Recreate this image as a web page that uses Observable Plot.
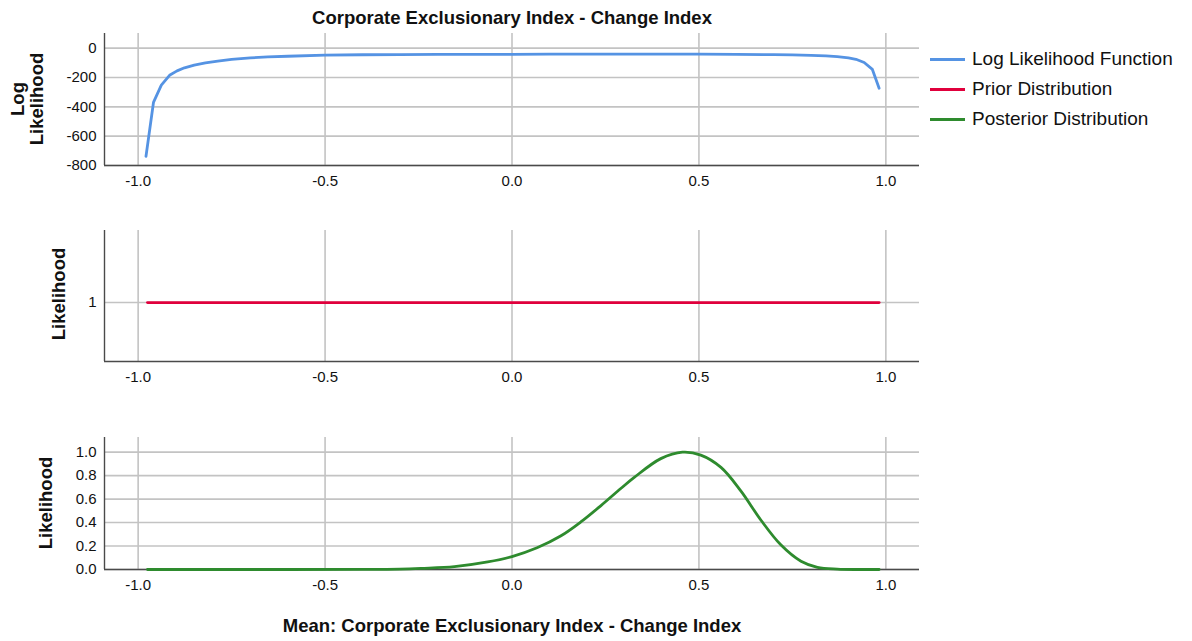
<!DOCTYPE html>
<html>
<head>
<meta charset="utf-8">
<script src="https://cdn.jsdelivr.net/npm/d3@7"></script>
<script src="https://cdn.jsdelivr.net/npm/@observablehq/plot@0.6"></script>
<style>
  html, body { margin: 0; padding: 0; background: #fff; }
  #wrap { position: relative; width: 1192px; height: 641px; font-family: "Liberation Sans", Arial, sans-serif; color: #111; overflow: hidden; }
  #wrap svg, #wrap svg g, #wrap svg text { font-size: 15px !important; font-family: "Liberation Sans", Arial, sans-serif !important; }
  .abs { position: absolute; }
  .btitle { font-weight: bold; font-size: 18.5px; white-space: nowrap; }
  .ytitle { font-weight: bold; font-size: 18.5px; white-space: nowrap; text-align: center; line-height: 19px; transform: translate(-50%, -50%) rotate(-90deg); }
  .leg { font-size: 19px; white-space: nowrap; }
  .legline { position: absolute; width: 35px; height: 3px; }
</style>
</head>
<body>
<div id="wrap"></div>
<script>
// ---- data ----
const title = "Corporate Exclusionary Index - Change Index";
const xTitle = "Mean: Corporate Exclusionary Index - Change Index";
const seriesNames = ["Log Likelihood Function", "Prior Distribution", "Posterior Distribution"];
const seriesColors = ["#5593e3", "#e0003c", "#2e8b2e"];

const xTicks = [-1.0, -0.5, 0.0, 0.5, 1.0];
const xDomain = [-1.09, 1.09];

// Log likelihood
const llX = [-0.979, -0.959, -0.938, -0.916, -0.896, -0.876, -0.85, -0.82, -0.787, -0.75, -0.7, -0.653, -0.6, -0.5, -0.4, -0.3, -0.2, -0.1, 0.0, 0.1, 0.2, 0.3, 0.4, 0.5, 0.6, 0.7, 0.75, 0.8, 0.84, 0.87, 0.9, 0.92, 0.942, 0.964, 0.982];
const llY = [-737, -370, -252, -185, -155, -134, -115, -100, -88, -77, -66, -60, -55, -47, -45, -44, -43, -42, -42, -41, -41, -41, -41, -41, -42, -44, -46, -49, -53, -58, -66, -76, -98, -145, -273];
const llYTicks = [0, -200, -400, -600, -800];
const llYDomain = [-800, 100];

// Prior
const priorX = [-0.975, 0.982];
const priorY = [1, 1];
const priorYTicks = [1];
const priorYDomain = [0.55, 1.55];

// Posterior
const postX = [-0.975, -0.6, -0.4, -0.3, -0.243, -0.154, -0.065, 0.0, 0.067, 0.13, 0.184, 0.238, 0.291, 0.327, 0.398, 0.456, 0.505, 0.559, 0.612, 0.666, 0.719, 0.773, 0.817, 0.87, 0.93, 0.982];
const postY = [0, 0, 0.001, 0.004, 0.01, 0.024, 0.064, 0.11, 0.185, 0.285, 0.405, 0.545, 0.69, 0.785, 0.945, 1.0, 0.975, 0.87, 0.67, 0.42, 0.21, 0.07, 0.018, 0.003, 0, 0];
const postYTicks = [0.0, 0.2, 0.4, 0.6, 0.8, 1.0];
const postYDomain = [0, 1.125];

// ---- build ----
const wrap = document.getElementById("wrap");
const W = 1192;
const mL = 104, mR = 1192 - 919;
const gridColor = "#c3c3c3";
const axisColor = "#4a4a4a";

function panel({top, mTop, plotH, mBottom, xs, ys, color, yDomain, yTicks, yFmt, curve}) {
  const data = xs.map((x, i) => ({x, y: ys[i]}));
  const p = Plot.plot({
    width: W,
    height: mTop + plotH + mBottom,
    marginLeft: mL, marginRight: mR, marginTop: mTop, marginBottom: mBottom,
    style: {fontFamily: '"Liberation Sans", Arial, sans-serif', fontSize: "15px", color: "#111", background: "transparent"},
    x: {domain: xDomain},
    y: {domain: yDomain},
    marks: [
      Plot.gridX(xTicks, {stroke: gridColor, strokeOpacity: 1, strokeWidth: 1.6}),
      Plot.gridY(yTicks, {stroke: gridColor, strokeOpacity: 1, strokeWidth: 1.6}),
      Plot.ruleX([xDomain[0]], {stroke: axisColor, strokeWidth: 1.4}),
      Plot.ruleY([yDomain[0]], {stroke: axisColor, strokeWidth: 1.4}),
      Plot.axisX(xTicks, {tickSize: 0, tickPadding: 10, tickFormat: d => d.toFixed(1), label: null, fontSize: 15}),
      Plot.axisY(yTicks, {tickSize: 0, tickPadding: 8, tickFormat: yFmt, label: null, fontSize: 15}),
      Plot.line(data, {x: "x", y: "y", stroke: color, strokeWidth: 2.8, curve: curve || "linear"})
    ]
  });
  p.style.position = "absolute";
  p.style.left = "0px";
  p.style.top = top + "px";
  wrap.appendChild(p);
}

panel({top: 0, mTop: 33, plotH: 132, mBottom: 35, xs: llX, ys: llY, color: seriesColors[0], yDomain: llYDomain, yTicks: llYTicks, yFmt: d => String(d)});
panel({top: 200, mTop: 30, plotH: 131, mBottom: 30, xs: priorX, ys: priorY, color: seriesColors[1], yDomain: priorYDomain, yTicks: priorYTicks, yFmt: d => String(d)});
panel({top: 391, mTop: 46, plotH: 132, mBottom: 30, xs: postX, ys: postY, color: seriesColors[2], yDomain: postYDomain, yTicks: postYTicks, yFmt: d => d.toFixed(1), curve: "catmull-rom"});

function addText(cls, text, left, top, center) {
  const d = document.createElement("div");
  d.className = "abs " + cls;
  d.innerHTML = text;
  d.style.left = left + "px";
  d.style.top = top + "px";
  if (center) d.style.transform = "translate(-50%, -50%)";
  wrap.appendChild(d);
  return d;
}

addText("btitle", title, 512, 18, true);
addText("btitle", xTitle, 512, 626, true);
addText("ytitle", "Log<br>Likelihood", 27, 99, false);
addText("ytitle", "Likelihood", 58, 294, false);
addText("ytitle", "Likelihood", 45, 503, false);

// legend
const legTops = [59, 89, 119];
seriesNames.forEach((name, i) => {
  const l = document.createElement("div");
  l.className = "legline";
  l.style.left = "930px";
  l.style.top = (legTops[i] - 1.5) + "px";
  l.style.background = seriesColors[i];
  wrap.appendChild(l);
  addText("leg", name, 972, legTops[i] - 11, false);
});
</script>
</body>
</html>
